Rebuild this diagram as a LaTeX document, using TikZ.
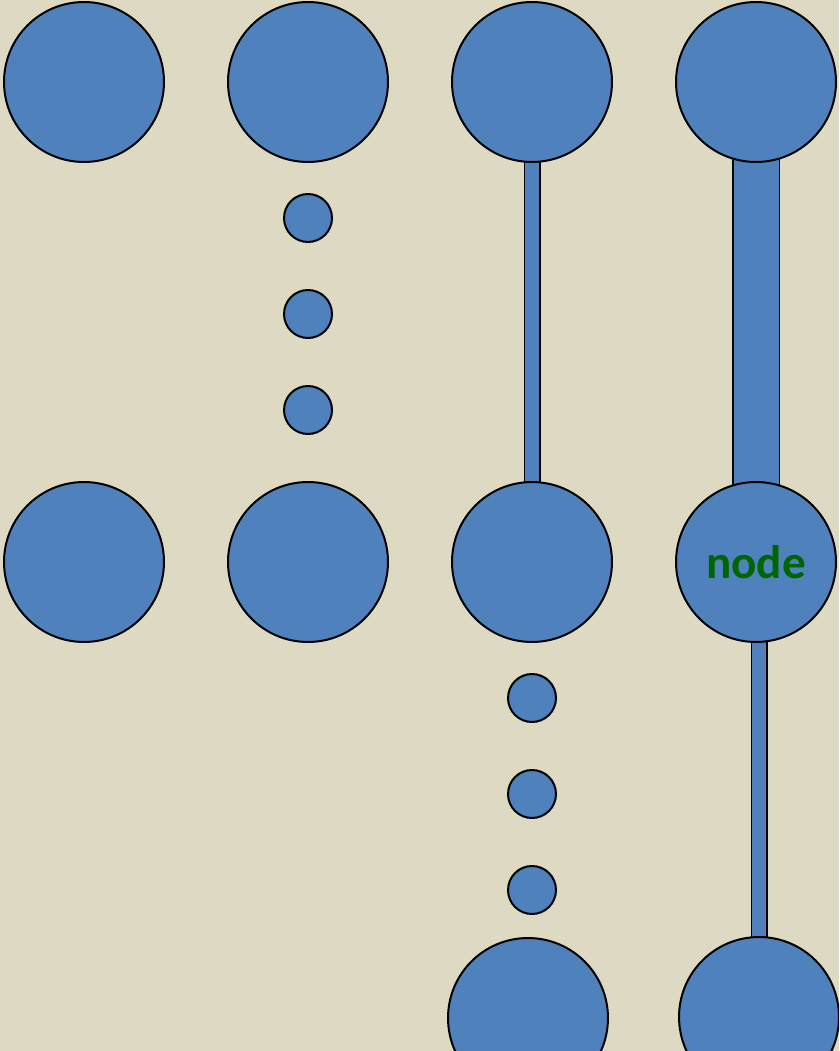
\documentclass[tikz,border=0pt]{standalone}
\usepackage{fontspec}
\setmainfont{Carlito}
\usetikzlibrary{backgrounds}
\definecolor{paper}{RGB}{221,217,195}
\definecolor{ballblue}{RGB}{79,129,189}
\definecolor{labelgreen}{RGB}{0,102,0}

\begin{document}
\begin{tikzpicture}[x=0.02cm, y=-0.02cm]
\tikzstyle{ball} = [circle, draw, line width=0.04cm, fill=ballblue, minimum size=3.2cm, inner sep=0pt]
\tikzstyle{dot} = [ball, minimum size=0.96cm]
\tikzstyle{rod} = [line width=0.03cm, double=ballblue, double distance=0.28cm]
\tikzstyle{thickrod} = [rod, double distance=0.9cm]
\clip (0,0) rectangle (839,1051);
% top row
\node[ball] (t1) at (84, 82) {};
\node[ball] (t2) at (308, 82) {};
\node[ball] (t3) at (532, 82) {};
\node[ball] (t4) at (756, 82) {};
% middle row
\node[ball] (m1) at (84, 562) {};
\node[ball] (m2) at (308, 562) {};
\node[ball] (m3) at (532, 562) {};
\node[ball, text=labelgreen, font=\bfseries\fontsize{26.8}{30}\selectfont] (m4) at (756, 562) {node};
% bottom row
\node[ball] (b3) at (528, 1018) {};
\node[ball] (b4) at (759, 1017) {};
% dots
\foreach \y [count=\i] in {218, 314, 410}
\node[dot] (d\i) at (308, \y) {};
\foreach \y [count=\i from 4] in {698, 794, 890}
\node[dot] (d\i) at (532, \y) {};
\begin{pgfonlayer}{background}
\fill[paper] (0,0) rectangle (839,1051);
\draw[rod] (t3.center) -- (m3.center);
\draw[thickrod] (t4.center) -- (m4.center);
\draw[rod] (b4.center) -- (b4 |- m4.center);
\end{pgfonlayer}
\end{tikzpicture}
\end{document}
